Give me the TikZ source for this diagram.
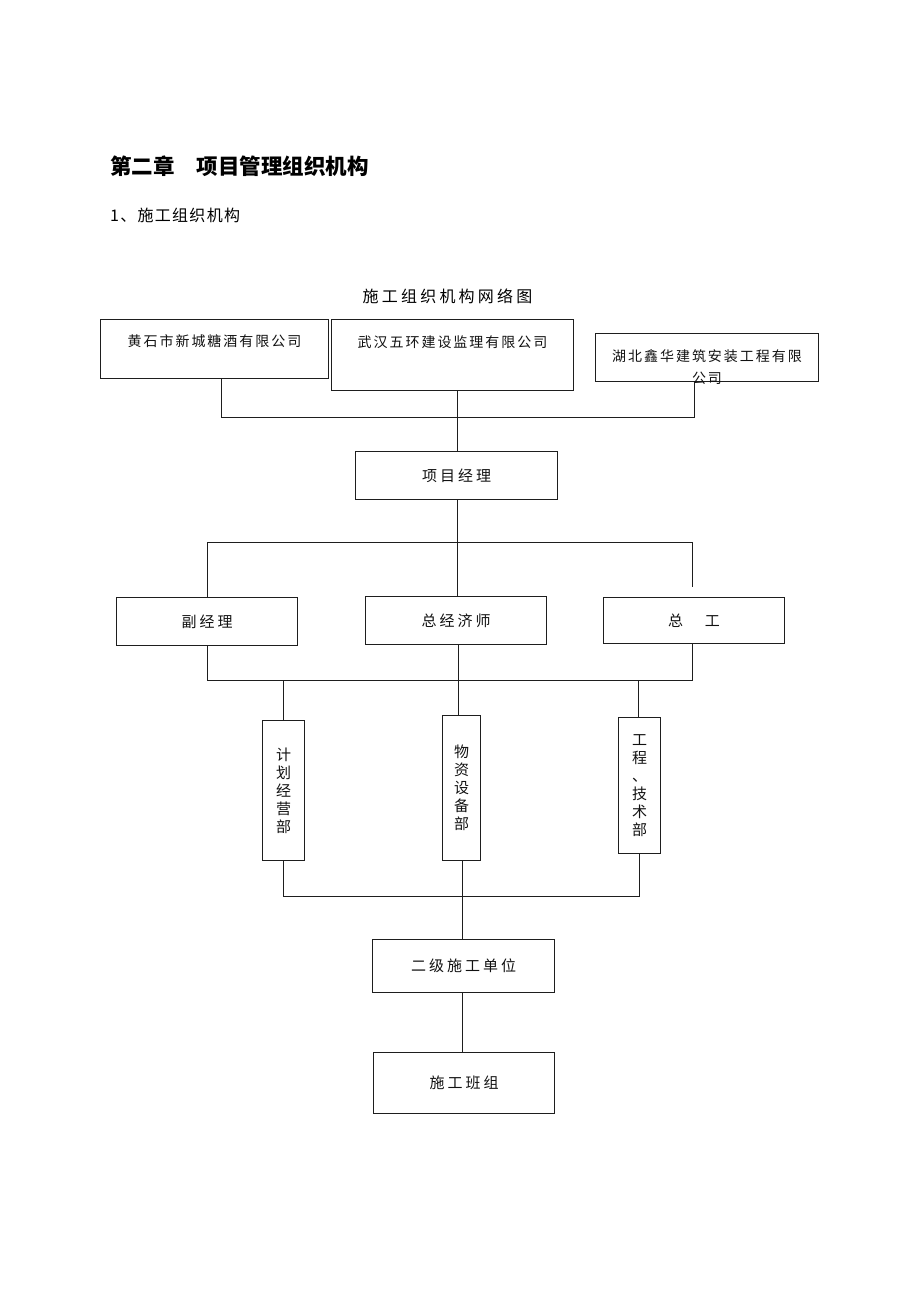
\documentclass[tikz,border=0pt]{standalone}
\usepackage{fontspec}
\usetikzlibrary{positioning, calc}
\newfontfamily\cjk{Noto Sans CJK SC}
\newfontfamily\cjksec[LetterSpace=8]{Noto Sans CJK SC}
\newfontfamily\cjktop[LetterSpace=14]{Noto Sans CJK SC}
\newfontfamily\cjkwide[LetterSpace=20]{Noto Sans CJK SC}
\definecolor{LineGray}{HTML}{1E1E1E}
\definecolor{TextGray}{HTML}{111111}

\tikzset{
  orgbox/.style={draw=LineGray, line width=1.2pt, inner sep=0pt, text=TextGray,
                 align=center, font=\cjkwide\fontsize{15}{18}\selectfont},
  topbox/.style={orgbox, font=\cjktop\fontsize{14}{22}\selectfont},
  vbox/.style={orgbox, font=\cjk\fontsize{15}{18}\selectfont},
  link/.style={draw=LineGray, line width=1.2pt},
  every label/.style={text=TextGray, align=center, font=\cjktop\fontsize{14}{22}\selectfont}
}

\begin{document}
\begin{tikzpicture}[x=1pt, y=-1pt]
\useasboundingbox (0,0) rectangle (920,1302);

% headings
\node[anchor=west, inner sep=0pt, font=\cjk\bfseries\fontsize{21.5}{24}\selectfont] (chapter)
  at (110,166) {第二章\hspace{22pt}项目管理组织机构};
\node[anchor=west, inner sep=0pt, font=\cjksec\fontsize{16}{20}\selectfont] (section)
  at (110,215) {1、施工组织机构};
\node[inner sep=0pt, font=\cjkwide\fontsize{16}{20}\selectfont] (caption)
  at (447.5,296) {施工组织机构网络图};

% top row
\node[topbox, minimum width=228pt, minimum height=59pt,
      label={[anchor=center, label distance=-22pt]north:黄石市新城糖酒有限公司}] (owner) at (214.5,349) {};
\node[topbox, minimum width=242pt, minimum height=71pt,
      label={[anchor=center, label distance=-23pt]north:武汉五环建设监理有限公司}] (supervisor) at (452.5,355) {};
\node[topbox, minimum width=223pt, minimum height=48pt,
      label={[anchor=center, label distance=-34pt]north:湖北鑫华建筑安装工程有限\\公司}] (contractor) at (707,357.5) {};

% management
\node[orgbox, minimum width=202pt, minimum height=48pt] (pm) at (456.5,475.5) {项目经理};
\node[orgbox, minimum width=181pt, minimum height=48pt] (deputy) at (207,621.5) {副经理};
\node[orgbox, minimum width=181pt, minimum height=48pt] (economist) at (456,620.5) {总经济师};
\node[orgbox, minimum width=181pt, minimum height=46pt] (chiefeng) at (694,620.5) {总\hspace{22pt}工};

% departments
\node[vbox, minimum width=42pt, minimum height=140pt] (plan) at (283.5,790.5) {计\\划\\经\\营\\部};
\node[vbox, minimum width=38pt, minimum height=145pt] (material) at (461.5,788) {物\\资\\设\\备\\部};
\node[vbox, minimum width=42pt, minimum height=136pt] (tech) at (639.5,785.5) {工\\程\\、\\技\\术\\部};

% site
\node[orgbox, minimum width=182pt, minimum height=53pt] (unit) at (463.5,966) {二级施工单位};
\node[orgbox, minimum width=181pt, minimum height=61pt] (team) at (464,1083) {施工班组};

% bus points
\coordinate (busTopL) at (221.5,417.5);
\coordinate (busTopM) at (457.5,417.5);
\coordinate (busTopR) at (694.5,417.5);
\coordinate (busMidL) at (207.5,542.5);
\coordinate (busMidM) at (457.5,542.5);
\coordinate (busMidR) at (692.5,542.5);
\coordinate (busLowL) at (207.5,680.5);
\coordinate (busLowR) at (692.5,680.5);
\coordinate (busBot) at (462.5,896.5);

% connectors
\draw[link] (owner.south -| busTopL) -- (busTopL) -- (busTopR) -- (contractor.south -| busTopR);
\draw[link] (supervisor.south -| busTopM) -- (pm.north -| busTopM);
\draw[link] (pm.south -| busMidM) -- (busMidM) -- (economist.north -| busMidM);
\draw[link] (deputy.north -| busMidL) -- (busMidL) -- (busMidR) -- ($(chiefeng.north -| busMidR)+(0,-10)$);
\draw[link] (deputy.south -| busLowL) -- (busLowL) -- (busLowR) -- (chiefeng.south -| busLowR);
\draw[link] (economist.south -| 458.5,0) -- (458.5,680.5) -- (material.north -| 458.5,0);
\draw[link] (plan.north) -- (plan.north |- busLowL);
\draw[link] (tech.north -| 638.5,0) -- (638.5,680.5);
\draw[link] (plan.south) -- (plan.south |- busBot) -- (tech.south |- busBot) -- (tech.south);
\draw[link] (material.south -| busBot) -- (unit.north -| busBot);
\draw[link] (unit.south -| busBot) -- (team.north -| busBot);
\end{tikzpicture}
\end{document}
